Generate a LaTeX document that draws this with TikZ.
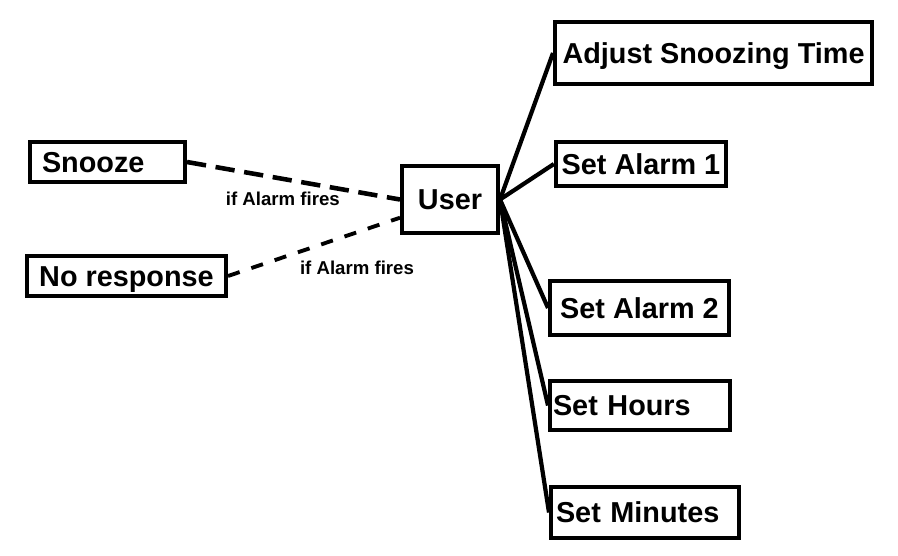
\documentclass[tikz,border=0pt]{standalone}
\usepackage{fontspec}
\setmainfont{Liberation Sans}
\usetikzlibrary{positioning}

\begin{document}
\begin{tikzpicture}[
  x=0.02cm, y=-0.02cm,
  box/.style={rectangle, draw, line width=2.3pt, inner ysep=0pt,
              text height=11.7pt, text depth=-1.2pt,
              font=\bfseries\fontsize{16.4}{18}\selectfont, align=center},
  lbox/.style={box, align=left},
  lbl/.style={font=\bfseries\fontsize{10.6}{12}\selectfont},
  link/.style={line width=2.4pt},
  dlink/.style={line width=2.6pt, dash pattern=on 11pt off 5.5pt}
]
\useasboundingbox (0,0) rectangle (898,555);

% Left side
\node[lbox, minimum width=3.1cm, minimum height=0.8cm, inner xsep=0.24cm,
      text width=2.62cm] (snooze) at (107.5,162) {Snooze};
\node[box, minimum width=3.98cm, minimum height=0.8cm] (nores) at (126.5,276) {No response};
\node[box, minimum width=1.92cm, minimum height=1.34cm] (user) at (450,199.5) {User};

% Right side
\node[box, minimum width=6.34cm, minimum height=1.24cm] (snztime) at (713.5,53) {Adjust Snoozing Time};
\node[box, minimum width=3.36cm, minimum height=0.88cm] (alarm1) at (641,164) {Set Alarm 1};
\node[box, minimum width=3.58cm, minimum height=1.08cm] (alarm2) at (639.5,308) {Set Alarm 2};
\node[lbox, minimum width=3.6cm, minimum height=0.98cm, inner xsep=0.06cm,
      text width=3.48cm] (hours) at (640,405.5) {Set Hours};
\node[lbox, minimum width=3.76cm, minimum height=1.02cm, inner xsep=0.1cm,
      text width=3.56cm] (mins) at (645,512.5) {Set Minutes};

% Dashed links
\draw[dlink] (snooze.east) -- (user.west)
  node[lbl, pos=0.45, yshift=-0.4cm] {if Alarm fires};
\draw[dlink, line width=2.2pt, dash pattern=on 7pt off 7pt] (nores.east) -- (user.200)
  node[lbl, pos=0.75, yshift=-0.72cm] {if Alarm fires};

% Solid links
\foreach \t in {snztime, alarm1, alarm2, hours, mins}
  \draw[link] (user.east) -- (\t.west);
\end{tikzpicture}
\end{document}
